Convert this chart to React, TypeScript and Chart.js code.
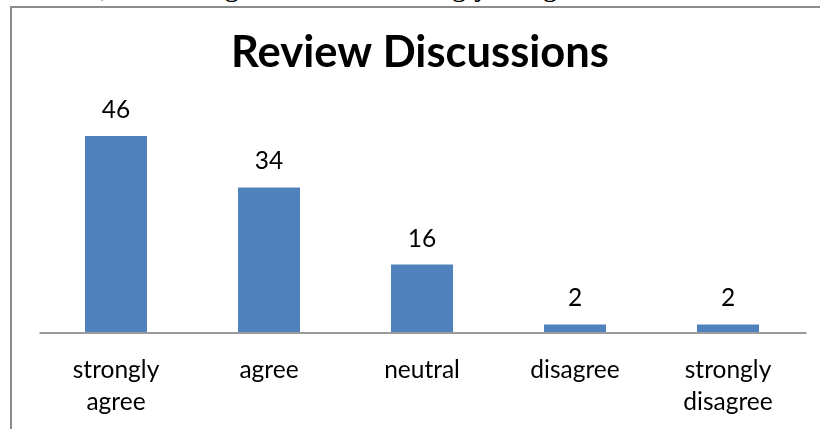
import React, { useEffect, useRef } from "react";
import { Chart, registerables } from "chart.js";

Chart.register(...registerables);

const categories: string[][] = [
  ["strongly", "agree"],
  ["agree"],
  ["neutral"],
  ["disagree"],
  ["strongly", "disagree"],
];
const values: number[] = [46, 34, 16, 2, 2];
const chartTitle = "Review Discussions";
const headerText = "neutral, 1 for disagree and 1 for strongly disagree";

const FONT = "Lato, 'Open Sans', sans-serif";

const drawPlugin = {
  id: "excelLook",
  afterDatasetsDraw(chart: any) {
    const { ctx, chartArea, scales } = chart;
    const x = scales.x;
    const y = scales.y;
    const base = y.getPixelForValue(0);
    ctx.save();
    // axis line
    ctx.strokeStyle = "#9a9a9a";
    ctx.lineWidth = 2;
    ctx.beginPath();
    ctx.moveTo(chartArea.left, base);
    ctx.lineTo(chartArea.right + 2, base);
    ctx.stroke();

    // title
    ctx.fillStyle = "#000";
    ctx.font = `bold 43.5px ${FONT}`;
    ctx.textAlign = "center";
    ctx.textBaseline = "alphabetic";
    ctx.fillText(chartTitle, (chartArea.left + chartArea.right) / 2 - 2, 67);

    // data labels
    ctx.font = `24.5px ${FONT}`;
    values.forEach((v, i) => {
      const px = x.getPixelForValue(i);
      const py = y.getPixelForValue(v);
      ctx.fillText(String(v), px, py - 18);
    });

    // category labels
    categories.forEach((lines, i) => {
      const px = x.getPixelForValue(i);
      lines.forEach((line, j) => {
        ctx.fillText(line, px, base + 45 + j * 32);
      });
    });
    ctx.restore();
  },
};

export default function App() {
  const ref = useRef<HTMLCanvasElement | null>(null);
  useEffect(() => {
    if (!ref.current) return;
    const chart = new Chart(ref.current, {
      type: "bar",
      data: {
        labels: categories.map((c) => c.join(" ")),
        datasets: [
          {
            data: values,
            backgroundColor: "#4F81BD",
            borderWidth: 0,
            barPercentage: 0.405,
            categoryPercentage: 1,
          },
        ],
      },
      options: {
        responsive: false,
        maintainAspectRatio: false,
        animation: false,
        layout: { padding: { left: 39.5, right: 15.5, top: 119, bottom: 96 } },
        plugins: {
          legend: { display: false },
          title: { display: false },
          tooltip: { enabled: false },
        },
        scales: {
          x: { display: false, offset: true },
          y: { display: false, min: 0, max: 50 },
        },
      },
      plugins: [drawPlugin],
    });
    return () => chart.destroy();
  }, []);

  return (
    <div
      style={{
        position: "fixed",
        left: 0,
        top: 0,
        width: 820,
        height: 429,
        overflow: "hidden",
        background: "#fff",
      }}
    >
      <div
        style={{
          position: "absolute",
          left: 20,
          top: -32,
          whiteSpace: "nowrap",
          fontFamily: "'Liberation Serif', 'Times New Roman', serif",
          fontSize: 29,
          lineHeight: "36px",
          color: "#000",
        }}
      >
        {headerText}
      </div>
      <div
        style={{
          position: "absolute",
          left: 10,
          top: 6,
          width: 830,
          height: 440,
          borderLeft: "2px solid #8c8c8c",
          borderTop: "2px solid #8c8c8c",
          background: "#fff",
        }}
      />
      <canvas
        ref={ref}
        width={820}
        height={429}
        style={{ position: "absolute", left: 0, top: 0, width: 820, height: 429 }}
      />
    </div>
  );
}
